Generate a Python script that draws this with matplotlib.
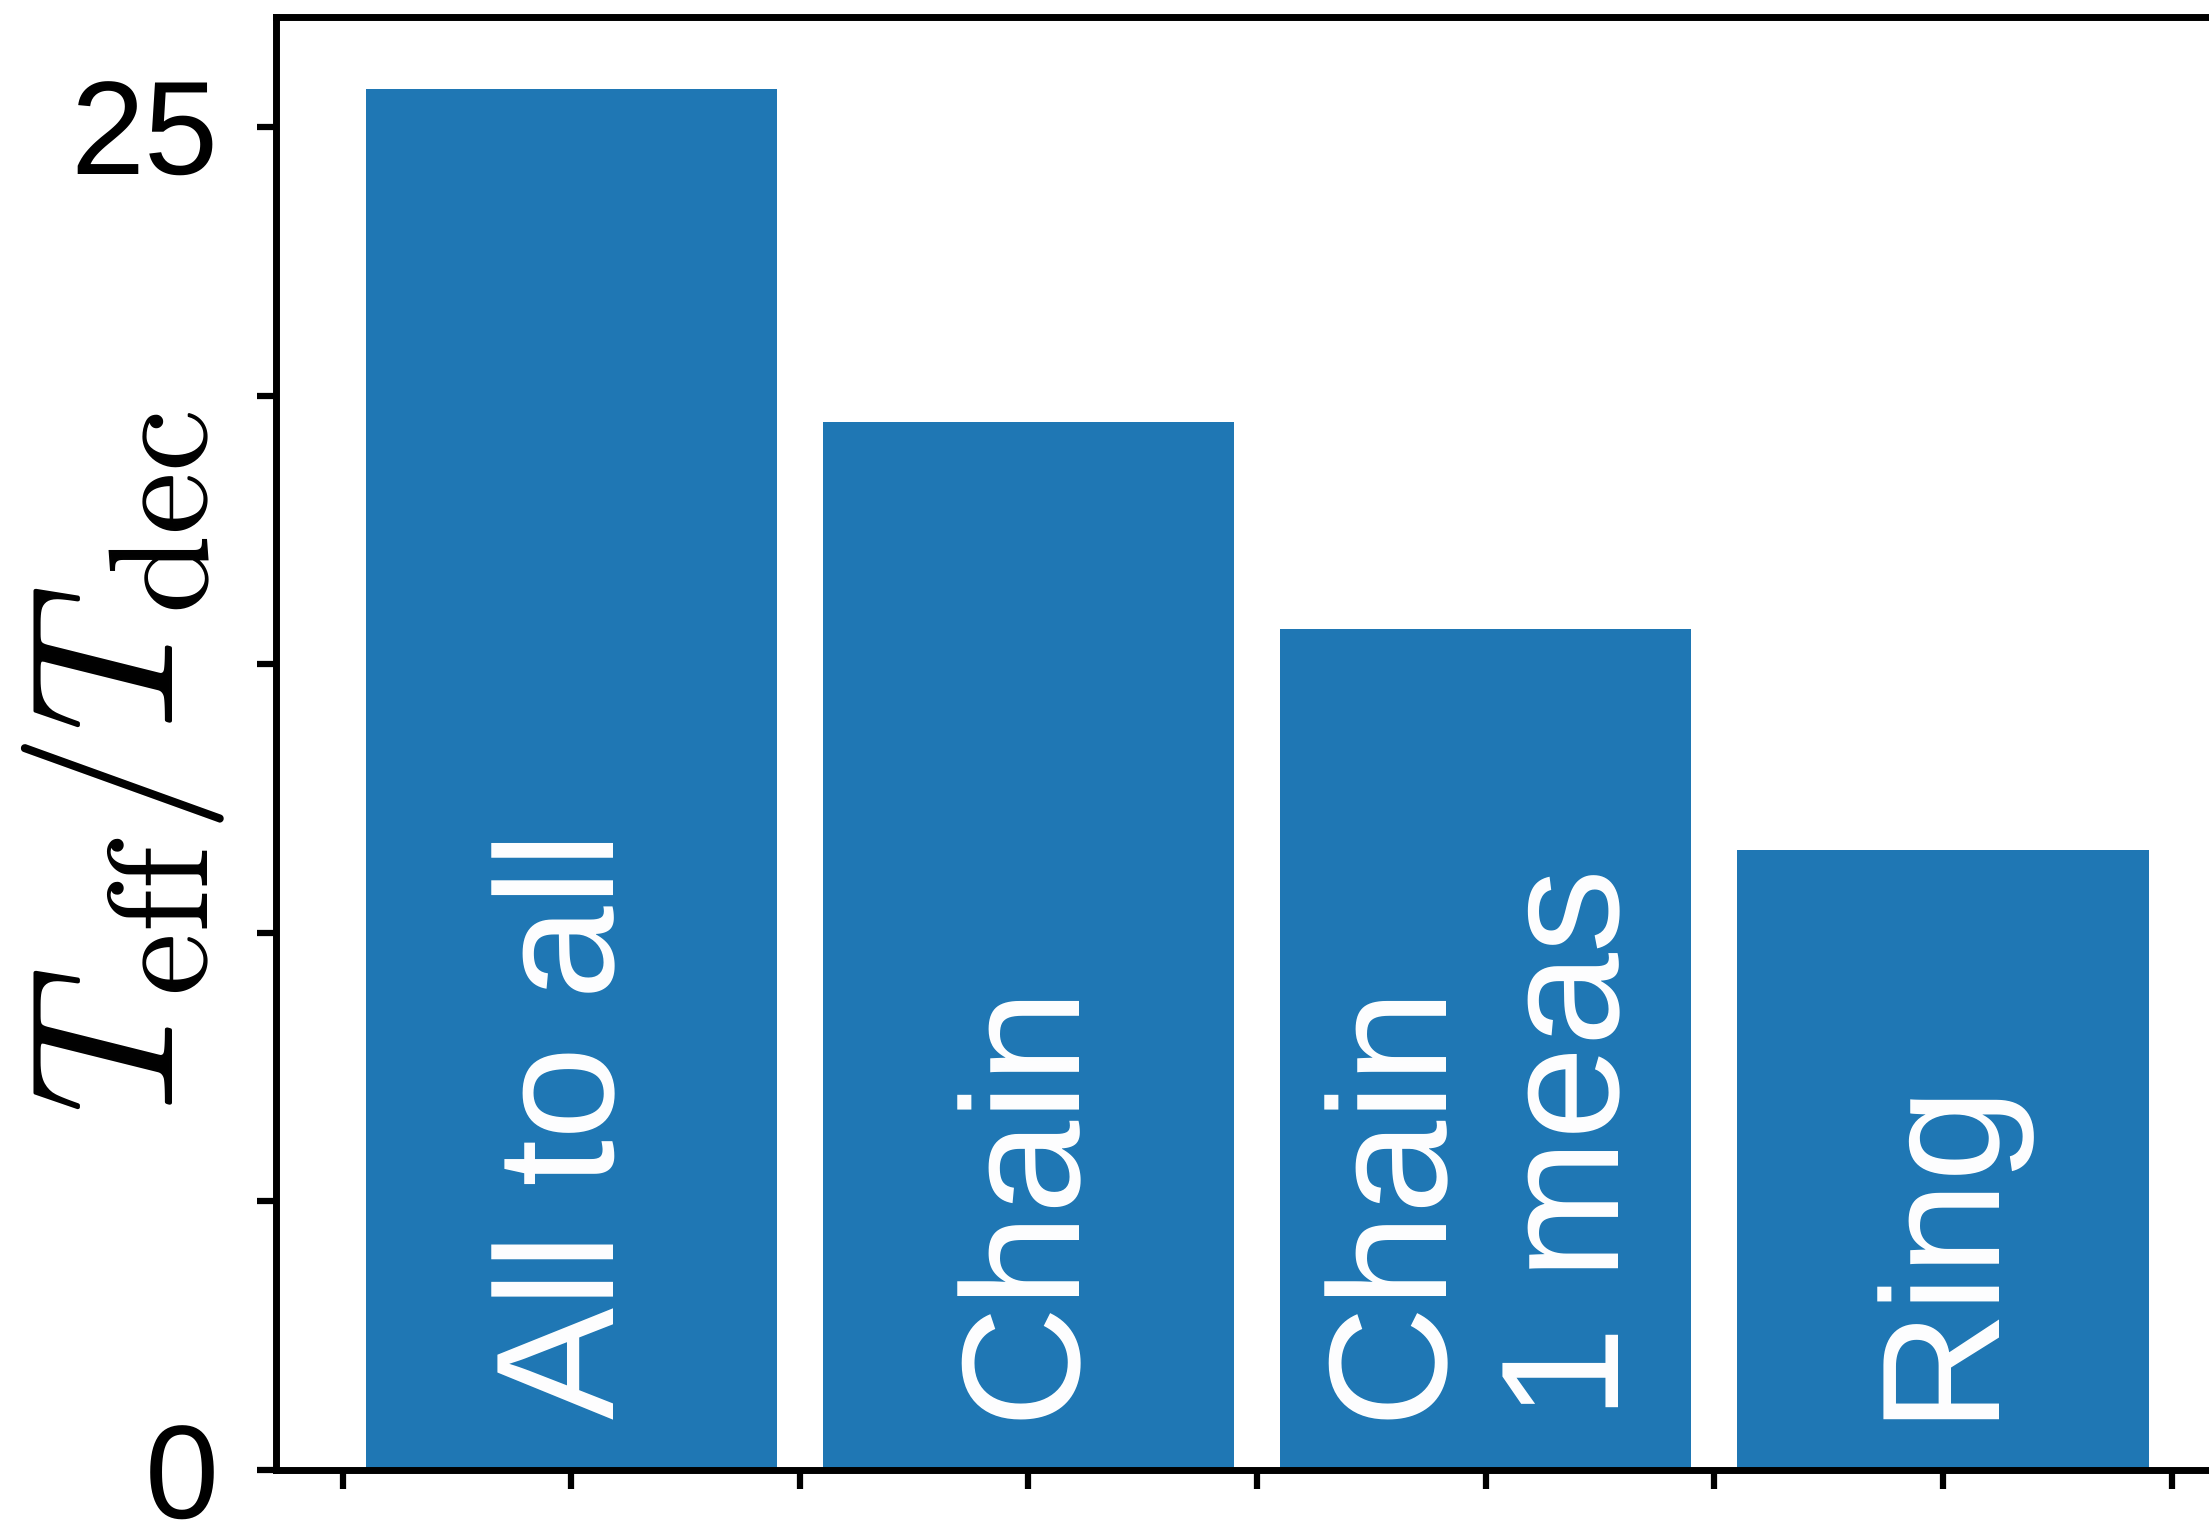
import matplotlib
matplotlib.use("Agg")
import matplotlib.pyplot as plt

plt.rcParams['font.family'] = ['Liberation Sans', 'DejaVu Sans']
plt.rcParams['mathtext.fontset'] = 'cm'
plt.rcParams['text.hinting'] = 'no_hinting'
plt.rcParams['text.hinting_factor'] = 1

# data
labels = ["All to all", "Chain", "Chain\n1 meas", "Ring"]
ratio = [25.7, 19.5, 15.65, 11.55]
yticks = [0, 5, 10, 15, 20, 25]
ytick_labels = ["0", "", "", "", "", "25"]

fig = plt.figure(figsize=(22.09, 15.25), dpi=100)
ax = fig.add_axes([0.125, 0.036, 0.875, 0.953])

pos = list(range(len(ratio)))
ax.bar(pos, ratio, width=0.9, color="#1f77b4")

for x, lab in zip(pos, labels):
    ax.text(x, 0.95, lab, rotation=90, ha="center", va="bottom",
            color="white", fontsize=121, multialignment="left")

ax.set_xlim(-0.6456, 3.582)
ax.set_ylim(0, 27.05)
ax.set_xticks([p - 0.5 for p in pos] + pos + [pos[-1] + 0.5])
ax.set_xticklabels([])
ax.set_yticks(yticks)
ax.set_yticklabels(ytick_labels, fontsize=96)
ax.tick_params(width=4.5, length=13.5, direction="out")
ax.tick_params(axis="y", pad=28)
ax.set_ylabel(r"$T_{\rm eff}/T_{\rm dec}$", fontsize=146)
ax.yaxis.set_label_coords(-0.026, 0.487)

for s in ["left", "top", "bottom"]:
    ax.spines[s].set_linewidth(5)
ax.spines["right"].set_visible(False)

fig.savefig("out.png", dpi=100)
